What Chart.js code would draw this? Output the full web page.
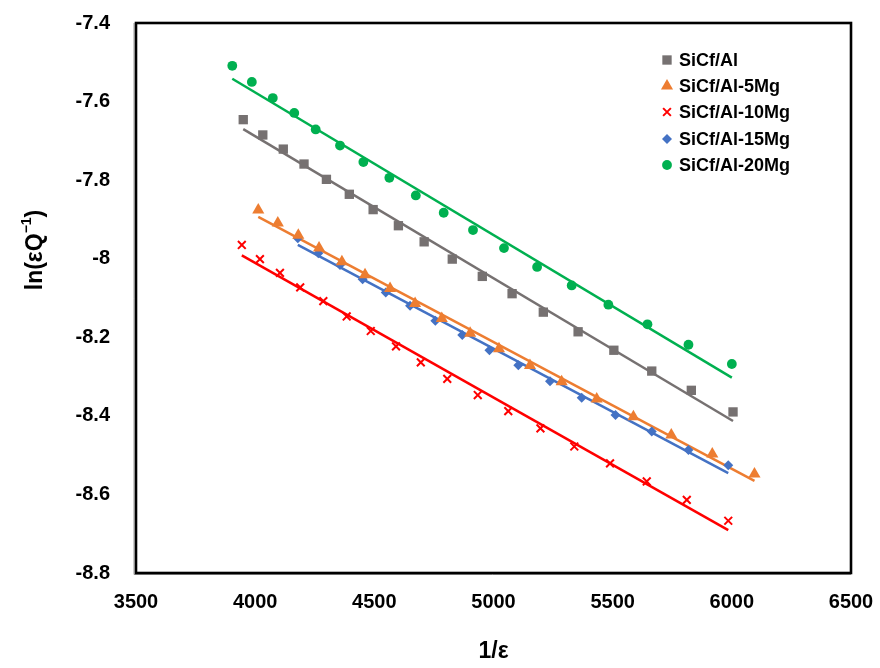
<!DOCTYPE html>
<html>
<head>
<meta charset="utf-8">
<script src="https://cdn.jsdelivr.net/npm/chart.js@4/dist/chart.umd.min.js"></script>
<style>
  html,body{margin:0;padding:0;background:#fff;}
  #wrap{width:880px;height:668px;}
</style>
</head>
<body>
<div id="wrap"><canvas id="chart" width="880" height="668"></canvas></div>
<script>
/* ---------- data ---------- */
const xTicks = [3500, 4000, 4500, 5000, 5500, 6000, 6500];
const xTickLabels = ['3500', '4000', '4500', '5000', '5500', '6000', '6500'];
const yTicks = [-8.8, -8.6, -8.4, -8.2, -8, -7.8, -7.6, -7.4];
const yTickLabels = ['-8.8', '-8.6', '-8.4', '-8.2', '-8', '-7.8', '-7.6', '-7.4'];

const seriesNames = ['SiCf/Al', 'SiCf/Al-5Mg', 'SiCf/Al-10Mg', 'SiCf/Al-15Mg', 'SiCf/Al-20Mg'];

const alX = [3950,4032,4118,4205,4299,4395,4495,4601,4709,4827,4953,5078,5209,5355,5505,5664,5830,6005];
const alY = [-7.646,-7.685,-7.721,-7.759,-7.798,-7.836,-7.875,-7.916,-7.957,-8.001,-8.045,-8.089,-8.136,-8.186,-8.233,-8.286,-8.335,-8.390];

const mg5X = [4013,4095,4181,4268,4364,4461,4566,4671,4783,4902,5023,5153,5286,5433,5587,5746,5918,6095];
const mg5Y = [-7.876,-7.909,-7.940,-7.973,-8.008,-8.041,-8.076,-8.114,-8.152,-8.190,-8.229,-8.272,-8.313,-8.357,-8.402,-8.449,-8.497,-8.548];

const mg10X = [3944,4020,4104,4189,4286,4384,4485,4591,4695,4806,4934,5062,5197,5339,5489,5643,5811,5985];
const mg10Y = [-7.965,-8.001,-8.036,-8.073,-8.108,-8.147,-8.184,-8.223,-8.264,-8.306,-8.347,-8.388,-8.432,-8.478,-8.521,-8.567,-8.614,-8.667];

const mg15X = [4179,4265,4356,4451,4548,4650,4756,4869,4983,5104,5237,5370,5512,5664,5818,5985];
const mg15Y = [-7.948,-7.986,-8.016,-8.052,-8.086,-8.120,-8.158,-8.194,-8.233,-8.271,-8.312,-8.354,-8.398,-8.440,-8.487,-8.526];

const mg20X = [3904,3986,4074,4164,4254,4356,4454,4563,4674,4791,4914,5044,5183,5328,5482,5646,5818,6000];
const mg20Y = [-7.509,-7.550,-7.591,-7.629,-7.671,-7.712,-7.754,-7.794,-7.839,-7.883,-7.927,-7.973,-8.021,-8.068,-8.117,-8.167,-8.219,-8.268];

/* ---------- styles ---------- */
const FONT = '"Liberation Sans", Arial, sans-serif';
const colors = ['#767171', '#ED7D31', '#FF0000', '#4472C4', '#00B050'];
const styles = ['rect', 'triangle', 'crossRot', 'rectRot', 'circle'];
const radii  = [6.6, 7, 5.5, 5, 4.9];

const xs = [alX, mg5X, mg10X, mg15X, mg20X];
const ys = [alY, mg5Y, mg10Y, mg15Y, mg20Y];

// least-squares trendline over the series' own x range (like Excel's linear trendline)
function trend(x, y){
  const n = x.length;
  let sx=0, sy=0, sxx=0, sxy=0;
  for(let i=0;i<n;i++){ sx+=x[i]; sy+=y[i]; sxx+=x[i]*x[i]; sxy+=x[i]*y[i]; }
  const b = (n*sxy - sx*sy)/(n*sxx - sx*sx);
  const a = (sy - b*sx)/n;
  const x0 = Math.min(...x), x1 = Math.max(...x);
  return [{x:x0, y:a+b*x0}, {x:x1, y:a+b*x1}];
}

const pointSets = seriesNames.map((name,i)=>({
  type:'scatter',
  label:name,
  data: xs[i].map((v,k)=>({x:v, y:ys[i][k]})),
  pointStyle: styles[i],
  pointRadius: radii[i],
  pointHoverRadius: radii[i],
  backgroundColor: colors[i],
  borderColor: colors[i],
  borderWidth: styles[i]==='crossRot' ? 2 : 0,
  showLine:false
}));
const lineSets = seriesNames.map((name,i)=>({
  type:'line',
  label:name+' trend',
  data: trend(xs[i], ys[i]),
  borderColor: colors[i],
  borderWidth: 2.5,
  pointRadius: 0,
  fill:false
}));

/* ---------- plugins: frame, titles, legend ---------- */
const framePlugin = {
  id:'frame',
  afterDraw(chart){
    const {ctx, chartArea:a} = chart;
    ctx.save();
    ctx.strokeStyle = '#9a9a9a'; ctx.lineWidth = 1;
    ctx.beginPath();
    ctx.moveTo(a.left-2, a.top); ctx.lineTo(a.left-2, a.bottom+1.5);
    ctx.lineTo(a.right, a.bottom+1.5);
    ctx.stroke();
    ctx.strokeStyle = '#000'; ctx.lineWidth = 2.6;
    ctx.strokeRect(a.left, a.top, a.right-a.left, a.bottom-a.top);
    ctx.restore();
  }
};

const titlePlugin = {
  id:'titles',
  afterDraw(chart){
    const ctx = chart.ctx, a = chart.chartArea;
    ctx.save();
    ctx.fillStyle = '#000';
    // x title
    ctx.font = 'bold 23px ' + FONT;
    ctx.textAlign = 'center'; ctx.textBaseline = 'middle';
    ctx.fillText('1/ε', (a.left+a.right)/2, 652);
    // y title, rotated, with superscript
    ctx.translate(34, 250);
    ctx.rotate(-Math.PI/2);
    const big = 'bold 23px ' + FONT, small = 'bold 14px ' + FONT;
    ctx.font = big;  const w1 = ctx.measureText('ln(εQ').width, w3 = ctx.measureText(')').width;
    ctx.font = small; const w2 = ctx.measureText('−1').width;
    let x = -(w1+w2+w3)/2;
    ctx.textAlign = 'left'; ctx.textBaseline = 'alphabetic';
    ctx.font = big;   ctx.fillText('ln(εQ', x, 8); x += w1;
    ctx.font = small; ctx.fillText('−1', x, -3); x += w2;
    ctx.font = big;   ctx.fillText(')', x, 8);
    ctx.restore();
  }
};

const legendPlugin = {
  id:'innerLegend',
  afterDraw(chart){
    const ctx = chart.ctx;
    const rowY = [60, 86, 112, 139, 165];
    ctx.save();
    ctx.font = 'bold 18px ' + FONT;
    ctx.textAlign = 'left'; ctx.textBaseline = 'middle';
    pointSets.forEach((ds,i)=>{
      ctx.fillStyle = colors[i]; ctx.strokeStyle = colors[i];
      ctx.lineWidth = ds.borderWidth;
      Chart.helpers.drawPoint(ctx, {pointStyle: ds.pointStyle, radius: ds.pointRadius, rotation:0, borderWidth: ds.borderWidth}, 667, rowY[i]);
      ctx.fillStyle = '#000';
      ctx.fillText(seriesNames[i], 679, rowY[i]+1);
    });
    ctx.restore();
  }
};

/* ---------- chart ---------- */
new Chart(document.getElementById('chart').getContext('2d'), {
  type:'scatter',
  data:{ datasets:[...pointSets, ...lineSets] },
  options:{
    responsive:false,
    animation:false,
    events:[],
    layout:{ padding:{ left:0, top:23, right:29, bottom:0 } },
    plugins:{ legend:{display:false}, tooltip:{enabled:false} },
    scales:{
      x:{
        type:'linear', min:3500, max:6500,
        afterFit(s){ s.height = 95; s.paddingLeft = 0; s.paddingRight = 0; },
        afterBuildTicks(s){ s.ticks = xTicks.map(v=>({value:v})); },
        grid:{ display:false, drawTicks:false },
        border:{ display:false },
        ticks:{
          padding:17, color:'#000', maxRotation:0,
          font:{ family:FONT, size:20, weight:'bold' },
          callback:(v)=> xTickLabels[xTicks.indexOf(v)]
        }
      },
      y:{
        type:'linear', min:-8.8, max:-7.4,
        afterFit(s){ s.width = 136; s.paddingTop = 0; s.paddingBottom = 0; },
        afterBuildTicks(s){ s.ticks = yTicks.map(v=>({value:v})); },
        grid:{ display:false, drawTicks:false },
        border:{ display:false },
        ticks:{
          padding:26, color:'#000',
          font:{ family:FONT, size:20, weight:'bold' },
          callback:(v)=> yTickLabels[yTicks.indexOf(v)]
        }
      }
    }
  },
  plugins:[framePlugin, titlePlugin, legendPlugin]
});
</script>
</body>
</html>
